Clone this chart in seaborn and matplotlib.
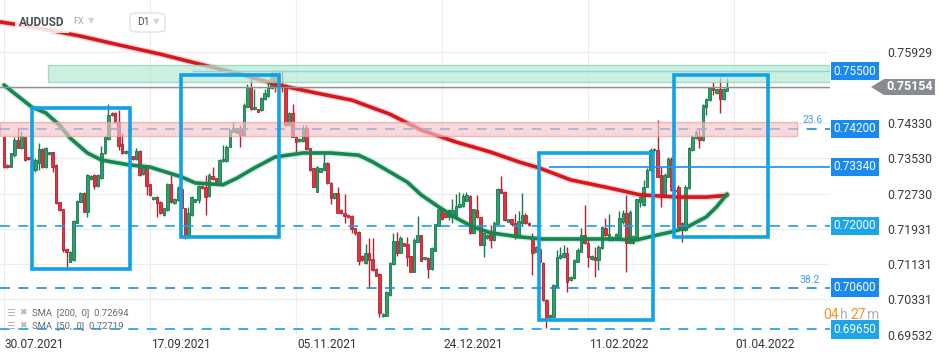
import numpy as np
import pandas as pd
import matplotlib
matplotlib.use("Agg")
import matplotlib.pyplot as plt
import matplotlib.transforms as mtransforms
from matplotlib.patches import Rectangle, Polygon, FancyBboxPatch
import seaborn as sns

# daily candles (Saturdays skipped, Sunday session candles included)
open_ = [
    0.7402, 0.7338, 0.7334, 0.7360, 0.7394, 0.7376, 0.7402, 0.7355, 0.7351, 0.7326,
    0.7343, 0.7373, 0.7333, 0.7362, 0.7367, 0.7338, 0.7253, 0.7238, 0.7147, 0.7119,
    0.7122, 0.7207, 0.7255, 0.7275, 0.7232, 0.7305, 0.7315, 0.7290, 0.7308, 0.7364,
    0.7396, 0.7456, 0.7455, 0.7436, 0.7385, 0.7364, 0.7369, 0.7358, 0.7351, 0.7370,
    0.7317, 0.7334, 0.7295, 0.7260, 0.7266, 0.7254, 0.7224, 0.7236, 0.7295, 0.7252,
    0.7258, 0.7283, 0.7240, 0.7179, 0.7224, 0.7255, 0.7258, 0.7290, 0.7289, 0.7268,
    0.7313, 0.7308, 0.7300, 0.7347, 0.7347, 0.7379, 0.7413, 0.7411, 0.7421, 0.7406,
    0.7470, 0.7514, 0.7464, 0.7464, 0.7462, 0.7487, 0.7494, 0.7512, 0.7542, 0.7519,
    0.7521, 0.7519, 0.7428, 0.7455, 0.7402, 0.7392, 0.7392, 0.7421, 0.7376, 0.7330,
    0.7277, 0.7323, 0.7326, 0.7342, 0.7298, 0.7262, 0.7274, 0.7236, 0.7230, 0.7224,
    0.7222, 0.7194, 0.7186, 0.7131, 0.7115, 0.7138, 0.7124, 0.7101, 0.7091, 0.6995,
    0.6996, 0.7043, 0.7113, 0.7165, 0.7139, 0.7160, 0.7158, 0.7131, 0.7096, 0.7164,
    0.7179, 0.7124, 0.7128, 0.7101, 0.7143, 0.7200, 0.7237, 0.7228, 0.7219, 0.7220,
    0.7219, 0.7242, 0.7245, 0.7257, 0.7268, 0.7183, 0.7236, 0.7219, 0.7156, 0.7172,
    0.7181, 0.7168, 0.7205, 0.7283, 0.7277, 0.7209, 0.7215, 0.7207, 0.7179, 0.7206,
    0.7224, 0.7206, 0.7172, 0.7141, 0.7147, 0.7116, 0.7032, 0.6994, 0.6994, 0.7062,
    0.7126, 0.7130, 0.7138, 0.7077, 0.7081, 0.7119, 0.7141, 0.7179, 0.7161, 0.7124,
    0.7130, 0.7122, 0.7149, 0.7194, 0.7168, 0.7168, 0.7169, 0.7175, 0.7209, 0.7228,
    0.7160, 0.7160, 0.7175, 0.7255, 0.7247, 0.7289, 0.7326, 0.7372, 0.7372, 0.7315,
    0.7266, 0.7311, 0.7352, 0.7281, 0.7289, 0.7206, 0.7190, 0.7285, 0.7372, 0.7398,
    0.7403, 0.7394, 0.7470, 0.7485, 0.7512, 0.7500, 0.7509, 0.7487, 0.7506,
]
high = [
    0.7403, 0.7340, 0.7366, 0.7402, 0.7425, 0.7415, 0.7403, 0.7356, 0.7354, 0.7354,
    0.7387, 0.7376, 0.7379, 0.7367, 0.7367, 0.7340, 0.7254, 0.7238, 0.7147, 0.7143,
    0.7213, 0.7258, 0.7277, 0.7277, 0.7317, 0.7315, 0.7317, 0.7317, 0.7381, 0.7403,
    0.7476, 0.7458, 0.7458, 0.7462, 0.7410, 0.7372, 0.7372, 0.7359, 0.7376, 0.7372,
    0.7338, 0.7335, 0.7295, 0.7265, 0.7268, 0.7256, 0.7240, 0.7297, 0.7315, 0.7263,
    0.7290, 0.7288, 0.7240, 0.7243, 0.7268, 0.7261, 0.7292, 0.7292, 0.7315, 0.7320,
    0.7334, 0.7308, 0.7351, 0.7383, 0.7383, 0.7419, 0.7436, 0.7422, 0.7428, 0.7478,
    0.7521, 0.7537, 0.7511, 0.7465, 0.7492, 0.7511, 0.7530, 0.7553, 0.7553, 0.7553,
    0.7553, 0.7521, 0.7458, 0.7477, 0.7403, 0.7399, 0.7428, 0.7428, 0.7376, 0.7331,
    0.7335, 0.7331, 0.7367, 0.7345, 0.7299, 0.7274, 0.7289, 0.7238, 0.7272, 0.7226,
    0.7224, 0.7195, 0.7188, 0.7134, 0.7159, 0.7172, 0.7172, 0.7104, 0.7093, 0.7002,
    0.7052, 0.7118, 0.7183, 0.7186, 0.7177, 0.7161, 0.7174, 0.7131, 0.7172, 0.7222,
    0.7179, 0.7129, 0.7129, 0.7152, 0.7204, 0.7238, 0.7238, 0.7229, 0.7238, 0.7261,
    0.7272, 0.7276, 0.7275, 0.7277, 0.7270, 0.7238, 0.7270, 0.7220, 0.7183, 0.7181,
    0.7202, 0.7211, 0.7286, 0.7313, 0.7279, 0.7215, 0.7215, 0.7227, 0.7233, 0.7274,
    0.7229, 0.7209, 0.7184, 0.7154, 0.7168, 0.7118, 0.7034, 0.7000, 0.7068, 0.7145,
    0.7153, 0.7156, 0.7153, 0.7086, 0.7125, 0.7150, 0.7194, 0.7247, 0.7168, 0.7134,
    0.7153, 0.7156, 0.7199, 0.7218, 0.7227, 0.7177, 0.7183, 0.7234, 0.7236, 0.7270,
    0.7236, 0.7179, 0.7261, 0.7267, 0.7304, 0.7331, 0.7376, 0.7376, 0.7440, 0.7334,
    0.7320, 0.7357, 0.7356, 0.7283, 0.7292, 0.7209, 0.7292, 0.7379, 0.7406, 0.7417,
    0.7421, 0.7476, 0.7490, 0.7515, 0.7527, 0.7510, 0.7538, 0.7512, 0.7534,
]
low = [
    0.7331, 0.7331, 0.7333, 0.7357, 0.7376, 0.7375, 0.7347, 0.7349, 0.7324, 0.7323,
    0.7326, 0.7331, 0.7331, 0.7360, 0.7323, 0.7249, 0.7233, 0.7141, 0.7106, 0.7118,
    0.7120, 0.7206, 0.7254, 0.7231, 0.7221, 0.7304, 0.7283, 0.7288, 0.7306, 0.7363,
    0.7394, 0.7449, 0.7433, 0.7372, 0.7363, 0.7363, 0.7354, 0.7349, 0.7349, 0.7313,
    0.7315, 0.7270, 0.7267, 0.7258, 0.7221, 0.7227, 0.7223, 0.7233, 0.7252, 0.7249,
    0.7256, 0.7238, 0.7169, 0.7177, 0.7222, 0.7254, 0.7251, 0.7283, 0.7224, 0.7265,
    0.7304, 0.7299, 0.7299, 0.7345, 0.7345, 0.7379, 0.7413, 0.7410, 0.7378, 0.7403,
    0.7469, 0.7462, 0.7462, 0.7458, 0.7460, 0.7485, 0.7492, 0.7510, 0.7503, 0.7517,
    0.7503, 0.7426, 0.7426, 0.7401, 0.7364, 0.7390, 0.7390, 0.7372, 0.7324, 0.7288,
    0.7277, 0.7322, 0.7324, 0.7295, 0.7249, 0.7261, 0.7229, 0.7227, 0.7206, 0.7218,
    0.7183, 0.7179, 0.7111, 0.7120, 0.7113, 0.7062, 0.7098, 0.7086, 0.6993, 0.6993,
    0.6995, 0.7041, 0.7112, 0.7131, 0.7138, 0.7154, 0.7109, 0.7095, 0.7095, 0.7163,
    0.7120, 0.7122, 0.7082, 0.7100, 0.7143, 0.7199, 0.7213, 0.7218, 0.7213, 0.7206,
    0.7218, 0.7240, 0.7243, 0.7256, 0.7181, 0.7181, 0.7218, 0.7156, 0.7130, 0.7170,
    0.7150, 0.7165, 0.7204, 0.7274, 0.7211, 0.7209, 0.7199, 0.7170, 0.7177, 0.7199,
    0.7204, 0.7199, 0.7088, 0.7140, 0.7116, 0.7030, 0.6968, 0.6991, 0.6993, 0.7061,
    0.7125, 0.7127, 0.7051, 0.7075, 0.7079, 0.7118, 0.7141, 0.7159, 0.7107, 0.7122,
    0.7085, 0.7100, 0.7147, 0.7177, 0.7165, 0.7165, 0.7168, 0.7172, 0.7204, 0.7096,
    0.7159, 0.7159, 0.7175, 0.7243, 0.7245, 0.7288, 0.7324, 0.7367, 0.7311, 0.7243,
    0.7265, 0.7311, 0.7279, 0.7277, 0.7197, 0.7164, 0.7188, 0.7283, 0.7369, 0.7397,
    0.7376, 0.7392, 0.7451, 0.7483, 0.7496, 0.7499, 0.7455, 0.7485, 0.7506,
]
close = [
    0.7334, 0.7333, 0.7364, 0.7394, 0.7376, 0.7403, 0.7349, 0.7351, 0.7326, 0.7349,
    0.7373, 0.7333, 0.7376, 0.7367, 0.7334, 0.7251, 0.7236, 0.7144, 0.7140, 0.7141,
    0.7211, 0.7256, 0.7275, 0.7232, 0.7315, 0.7313, 0.7290, 0.7315, 0.7366, 0.7401,
    0.7451, 0.7451, 0.7435, 0.7381, 0.7364, 0.7369, 0.7358, 0.7351, 0.7370, 0.7315,
    0.7336, 0.7290, 0.7270, 0.7265, 0.7251, 0.7228, 0.7240, 0.7295, 0.7255, 0.7261,
    0.7285, 0.7240, 0.7179, 0.7228, 0.7266, 0.7260, 0.7290, 0.7285, 0.7266, 0.7315,
    0.7306, 0.7300, 0.7349, 0.7351, 0.7379, 0.7417, 0.7421, 0.7421, 0.7406, 0.7474,
    0.7514, 0.7464, 0.7470, 0.7459, 0.7489, 0.7500, 0.7512, 0.7546, 0.7515, 0.7523,
    0.7515, 0.7428, 0.7455, 0.7402, 0.7391, 0.7397, 0.7421, 0.7373, 0.7326, 0.7289,
    0.7334, 0.7330, 0.7343, 0.7296, 0.7262, 0.7274, 0.7229, 0.7228, 0.7222, 0.7219,
    0.7192, 0.7183, 0.7121, 0.7122, 0.7138, 0.7122, 0.7100, 0.7087, 0.7002, 0.7000,
    0.7049, 0.7115, 0.7165, 0.7139, 0.7172, 0.7155, 0.7129, 0.7096, 0.7168, 0.7179,
    0.7121, 0.7129, 0.7101, 0.7150, 0.7203, 0.7237, 0.7215, 0.7219, 0.7236, 0.7236,
    0.7245, 0.7249, 0.7267, 0.7270, 0.7183, 0.7237, 0.7219, 0.7156, 0.7183, 0.7179,
    0.7168, 0.7207, 0.7283, 0.7275, 0.7213, 0.7215, 0.7204, 0.7177, 0.7211, 0.7224,
    0.7206, 0.7202, 0.7139, 0.7151, 0.7118, 0.7032, 0.6994, 0.6998, 0.7066, 0.7130,
    0.7134, 0.7139, 0.7073, 0.7085, 0.7122, 0.7145, 0.7179, 0.7160, 0.7129, 0.7131,
    0.7122, 0.7153, 0.7197, 0.7179, 0.7181, 0.7175, 0.7181, 0.7217, 0.7229, 0.7160,
    0.7232, 0.7177, 0.7260, 0.7266, 0.7289, 0.7326, 0.7372, 0.7374, 0.7311, 0.7266,
    0.7315, 0.7352, 0.7281, 0.7279, 0.7198, 0.7190, 0.7289, 0.7376, 0.7402, 0.7413,
    0.7394, 0.7474, 0.7487, 0.7512, 0.7508, 0.7509, 0.7487, 0.7509, 0.7515,
]

# moving averages, read at a few candle positions
sma200_idx = [-1, 10, 22, 33, 45, 56, 68, 79, 91, 100, 111, 120, 130, 140, 148, 154, 163, 174, 183, 194, 202, 208]
sma200 = [0.7662, 0.7648, 0.7630, 0.7610, 0.7589, 0.7567, 0.7544, 0.7519, 0.7499, 0.7485, 0.7453,
          0.7417, 0.7390, 0.7367, 0.7345, 0.7331, 0.7304, 0.7286, 0.7270, 0.7265, 0.7265, 0.7269]
sma50_idx = [0, 8, 12, 16, 19, 24, 28, 36, 42, 51, 55, 63, 67, 72, 78, 86, 94, 102, 106, 111, 116,
             120, 125, 130, 135, 140, 148, 155, 165, 174, 182, 189, 192, 196, 202, 205, 208]
sma50 = [0.7519, 0.7469, 0.7456, 0.7428, 0.7399, 0.7365, 0.7349, 0.7338, 0.7333, 0.7311, 0.7297,
         0.7293, 0.7308, 0.7331, 0.7356, 0.7365, 0.7365, 0.7360, 0.7345, 0.7322, 0.7299,
         0.7270, 0.7243, 0.7218, 0.7197, 0.7184, 0.7175, 0.7170, 0.7170, 0.7170, 0.7168,
         0.7181, 0.7186, 0.7195, 0.7220, 0.7243, 0.7272]

date_ticks = ["2021-07-30", "2021-09-17", "2021-11-05", "2021-12-24", "2022-02-11", "2022-04-01"]
date_labels = ["30.07.2021", "17.09.2021", "05.11.2021", "24.12.2021", "11.02.2022", "01.04.2022"]
price_ticks = [0.69532, 0.70331, 0.71131, 0.71931, 0.72730, 0.73530, 0.74330, 0.75129, 0.75929]
price_labels = ["0.69532", "0.70331", "0.71131", "0.71931", "0.72730", "0.73530", "0.74330", "", "0.75929"]

last_price = 0.75154
green_zone = (0.75266, 0.75645)
red_zone = (0.74042, 0.74346)
levels_dashed = [0.7420, 0.7200, 0.7060, 0.6965]
level_labels = [(0.7550, "0.75500", "#1a8af0"), (0.7420, "0.74200", "#1a8af0"),
                (0.7334, "0.73340", "#1a8af0"), (0.7200, "0.72000", "#1ca4ec"),
                (0.7060, "0.70600", "#1a8af0"), (0.6965, "0.69650", "#1ca4ec")]
# marked boxes: (first candle, last candle, low, high)
boxes = [(8.1, 36.2, 0.71013, 0.74677), (50.9, 79.1, 0.71745, 0.75418),
         (154.0, 186.8, 0.69864, 0.73643), (192.8, 219.8, 0.71738, 0.75411)]

# ---------------------------------------------------------------
sns.set_theme(style="white")
plt.rcParams["font.family"] = ["Roboto", "DejaVu Sans"]

o = np.array(open_); h = np.array(high); l = np.array(low); c = np.array(close)
x = np.arange(len(c))
days = pd.date_range("2021-07-30", "2022-06-30", freq="D")
days = days[days.weekday != 5]
pos = {d.strftime("%Y-%m-%d"): i for i, d in enumerate(days)}

fig = plt.figure(figsize=(9.5, 3.6), dpi=100)
ax = fig.add_axes([0, 25 / 360, 830 / 950, 335 / 360])
xmin, xmax = -1.15, 237.6
ax.set_xlim(xmin, xmax)
ax.set_ylim(0.69524, 0.77118)

ax.grid(True, color="#ededed", lw=0.8)
ax.set_axisbelow(True)
for s in ax.spines.values():
    s.set_visible(False)

up = c >= o
edge = np.where(up, "#137a4b", "#b81f2d")
fill = np.where(up, "#2e9e6c", "#e3323f")
ax.vlines(x, l, h, colors=edge, lw=1.0, zorder=2)
body = np.maximum(np.abs(c - o), 0.00008)
ax.bar(x, body, bottom=np.minimum(o, c), width=0.72, color=fill, edgecolor=edge,
       linewidth=0.6, zorder=3)

# SMA lines
sns.lineplot(x=sma200_idx, y=sma200, ax=ax, color="#d9161c", lw=4.5, alpha=0.18, zorder=4, legend=False)
sns.lineplot(x=sma200_idx, y=sma200, ax=ax, color="#d9161c", lw=2.6, zorder=4, legend=False)
sns.lineplot(x=sma50_idx, y=sma50, ax=ax, color="#12884f", lw=4.5, alpha=0.18, zorder=4, legend=False)
sns.lineplot(x=sma50_idx, y=sma50, ax=ax, color="#12884f", lw=2.6, zorder=4, legend=False)

# levels
ax.axhline(last_price, color="#8b9196", lw=1.0, zorder=5)
ax.hlines(0.7550, 54, xmax, color="#3a9cf0", lw=1.0, zorder=5)
ax.hlines(0.7334, 156.8, xmax, color="#1e8ff0", lw=1.2, zorder=5)
for lv in levels_dashed:
    col = "#1b9cf0" if lv in (0.7200, 0.6965) else "#1f88e5"
    ax.hlines(lv, xmin, xmax, color=col, lw=1.2, linestyles=(0, (6, 5)), zorder=5)

# zones
ax.add_patch(Rectangle((12.7, green_zone[0]), xmax - 12.7, green_zone[1] - green_zone[0],
                       fc="#b8ead6", ec="#86d3b0", lw=1.0, alpha=0.72, zorder=6))
ax.add_patch(Rectangle((xmin, red_zone[0]), 228.1 - xmin, red_zone[1] - red_zone[0],
                       fc="#f6c4c9", ec="#ee99a1", lw=1.0, alpha=0.65, zorder=6))

for x0, x1, y0, y1 in boxes:
    ax.add_patch(Rectangle((x0, y0), x1 - x0, y1 - y0, fill=False, ec="#10a2e8",
                           lw=2.6, zorder=7, clip_on=False))

ax.text(232.7, 0.7440, "23.6", color="#3ea2ea", fontsize=7.5, ha="center", va="center", zorder=8)
ax.text(231.6, 0.7077, "38.2", color="#3ea2ea", fontsize=7.5, ha="center", va="center", zorder=8)

# right-hand labels
blend = mtransforms.blended_transform_factory(ax.transAxes, ax.transData)
for lv, txt, col in level_labels:
    ax.text(1.0045, lv, txt, transform=blend, ha="left", va="center", color="white",
            fontsize=8.5, clip_on=False, zorder=9,
            bbox=dict(boxstyle="square,pad=0.22", fc=col, ec="none"))

ax.yaxis.tick_right()
ax.set_yticks(price_ticks)
ax.set_yticklabels(price_labels)
ax.tick_params(axis="y", length=0, pad=41, labelsize=8.9, labelcolor="#3c3c3c")
ax.set_xticks([pos[d] for d in date_ticks])
ax.set_xticklabels(date_labels, ha="left")
ax.tick_params(axis="x", length=0, pad=2, labelsize=8.6, labelcolor="#333333")
for t in ax.get_xticklabels():
    t.set_transform(t.get_transform() + mtransforms.ScaledTranslation(1 / 100, 0, fig.dpi_scale_trans))

# current price tag
def fx(px):
    return px / 950

def fy(py):
    return 1 - py / 360

tag = [(871, 87), (884, 79), (935, 79), (935, 95), (884, 95)]
fig.patches.append(Polygon([(fx(a), fy(b)) for a, b in tag], closed=True, fc="#868c91",
                           ec="none", transform=fig.transFigure, figure=fig))
fig.text(fx(910), fy(87), "0.75154", color="white", fontsize=9, fontweight="bold",
         ha="center", va="center")

# countdown
fig.text(fx(823), fy(315), "04", color="#f7941d", fontsize=10, va="center")
fig.text(fx(840), fy(315), "h", color="#b0b0b0", fontsize=10, va="center")
fig.text(fx(850), fy(315), "27", color="#f7941d", fontsize=10, va="center")
fig.text(fx(867.5), fy(315), "m", color="#b0b0b0", fontsize=10, va="center")

# header
fig.text(fx(19), fy(22), "AUDUSD", color="#4a4f55", fontsize=8.5, fontweight="bold", va="center",
         bbox=dict(boxstyle="square,pad=0.35", fc="white", ec="none", alpha=0.85))
fig.text(fx(73), fy(22), "FX", color="#a0a4a8", fontsize=6.5, va="center")
fig.text(fx(88), fy(21), "▼", color="#d2d4d6", fontsize=6, va="center")
fig.patches.append(FancyBboxPatch((fx(130), fy(32)), fx(35), 19 / 360,
                                  boxstyle="round,pad=0,rounding_size=0.008",
                                  fc="white", ec="#dcdcdc", lw=0.8,
                                  transform=fig.transFigure, figure=fig))
fig.text(fx(137), fy(22), "D1", color="#4a4f55", fontsize=7.5, va="center")
fig.text(fx(153), fy(22), "▼", color="#d2d4d6", fontsize=6, va="center")

# indicator legend
for py, txt in [(313, "SMA  [200,  0]  0.72694"), (326, "SMA  [50,  0]  0.72719")]:
    fig.text(fx(6), fy(py), "☰", color="#b4b4b4", fontsize=7, va="center")
    fig.text(fx(19), fy(py), "✖", color="#b4b4b4", fontsize=6.5, va="center")
    fig.text(fx(32), fy(py), txt, color="#666a6e", fontsize=6.8, va="center")

fig.savefig("out.png", dpi=100)
